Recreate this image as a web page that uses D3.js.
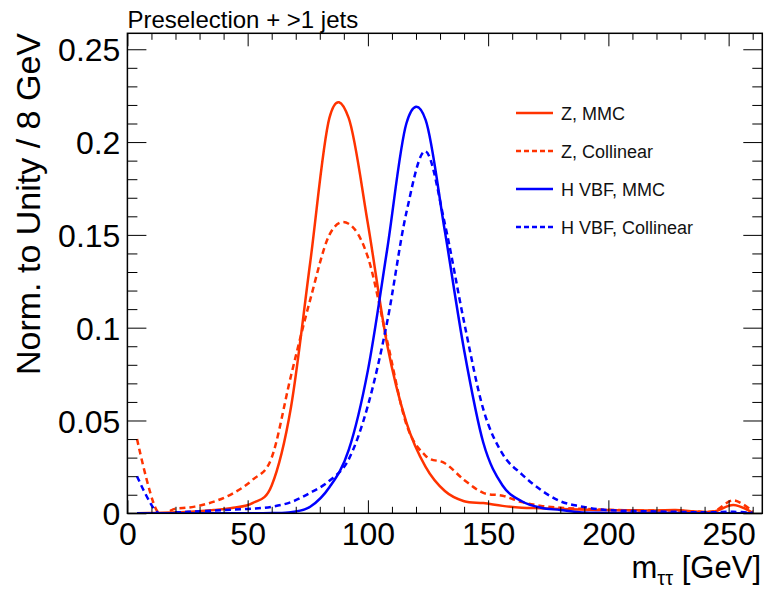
<!DOCTYPE html>
<html>
<head>
<meta charset="utf-8">
<script src="https://cdn.jsdelivr.net/npm/d3@7"></script>
<style>
  body { margin: 0; background: #fff; }
  svg { display: block; font-family: "Liberation Sans", Arial, Helvetica, sans-serif; }
</style>
</head>
<body>
<div id="chart"></div>
<script>
// ---- data ----
const binCenters = [4, 12, 20, 28, 36, 44, 52, 60, 68, 76, 84, 92, 100, 108, 116, 124, 132, 140, 148, 156, 164, 172, 180, 188, 196, 204, 212, 220, 228, 236, 244, 252, 260];
const zMMC = [0.0, 0.0002, 0.0005, 0.001, 0.0018, 0.003, 0.0055, 0.015, 0.057, 0.135, 0.213, 0.213, 0.156, 0.091, 0.049, 0.025, 0.012, 0.0065, 0.0055, 0.004, 0.003, 0.0027, 0.0023, 0.002, 0.0018, 0.0017, 0.0016, 0.0015, 0.0018, 0.001, 0.001, 0.0045, 0.0003];
const zCol = [0.040, 0.002, 0.0025, 0.0036, 0.0063, 0.0108, 0.018, 0.03, 0.074, 0.115, 0.150, 0.156, 0.138, 0.093, 0.048, 0.031, 0.027, 0.018, 0.011, 0.0095, 0.006, 0.004, 0.003, 0.0025, 0.002, 0.0018, 0.0015, 0.0015, 0.0015, 0.001, 0.0012, 0.007, 0.001];
const hMMC = [0, 0, 0, 0, 0, 0, 0, 0.0002, 0.0006, 0.0035, 0.014, 0.034, 0.077, 0.142, 0.210, 0.212, 0.152, 0.088, 0.038, 0.015, 0.0065, 0.003, 0.0018, 0.0006, 0.0003, 0.0002, 0.0001, 0.0001, 0.0001, 0, 0, 0, 0];
const hCol = [0.020, 0.001, 0.0005, 0.001, 0.0015, 0.002, 0.0025, 0.0035, 0.006, 0.011, 0.0175, 0.029, 0.058, 0.103, 0.162, 0.195, 0.156, 0.103, 0.056, 0.032, 0.021, 0.0125, 0.0065, 0.0038, 0.0022, 0.0015, 0.0012, 0.001, 0.0008, 0.0006, 0.0006, 0.0008, 0.0003];

const seriesNames = ["Z, MMC", "Z, Collinear", "H VBF, MMC", "H VBF, Collinear"];
const seriesColors = ["#ff3300", "#ff3300", "#0000ff", "#0000ff"];
const seriesDashed = [false, true, false, true];

const xMajorTicks = [0, 50, 100, 150, 200, 250];
const xMinorTicks = [10, 20, 30, 40, 60, 70, 80, 90, 110, 120, 130, 140, 160, 170, 180, 190, 210, 220, 230, 240, 260];
const yMajorTicks = [0, 0.05, 0.1, 0.15, 0.2, 0.25];
const yTickLabels = ["0", "0.05", "0.1", "0.15", "0.2", "0.25"];
const yMinorTicks = [0.01, 0.02, 0.03, 0.04, 0.06, 0.07, 0.08, 0.09, 0.11, 0.12, 0.13, 0.14, 0.16, 0.17, 0.18, 0.19, 0.21, 0.22, 0.23, 0.24];

const xDomain = [0, 264];
const yDomain = [0, 0.2586];

const titleText = "Preselection + >1 jets";
const yTitle = "Norm. to Unity / 8 GeV";

// ---- layout ----
const W = 765, H = 590;
const L = 127.4, R = 762.3, T = 33.3, B = 513.3;

const svg = d3.select("#chart").append("svg").attr("width", W).attr("height", H);

const x = d3.scaleLinear().domain(xDomain).range([L, R]);
const y = d3.scaleLinear().domain(yDomain).range([B, T]);

svg.append("defs").append("clipPath").attr("id", "plotclip")
  .append("rect").attr("x", L).attr("y", T).attr("width", R - L).attr("height", B - T);

// curves
const allSeries = [zMMC, zCol, hMMC, hCol];
const line = d3.line()
  .x((d, i) => x(binCenters[i]))
  .y(d => y(d))
  .curve(d3.curveCatmullRom.alpha(0));

const gCurves = svg.append("g").attr("clip-path", "url(#plotclip)");
allSeries.forEach((s, k) => {
  gCurves.append("path")
    .datum(s)
    .attr("d", line)
    .attr("fill", "none")
    .attr("stroke", seriesColors[k])
    .attr("stroke-width", 2.5)
    .attr("stroke-dasharray", seriesDashed[k] ? "6,4" : null);
});

// axes
function styleAxis(g) {
  g.select(".domain").remove();
  g.selectAll(".tick line").attr("stroke", "#000").attr("stroke-width", 1);
  g.selectAll("text").attr("fill", "#000");
}

// bottom major
svg.append("g").attr("transform", `translate(0,${B})`)
  .call(d3.axisBottom(x).tickValues(xMajorTicks).tickSizeInner(-13).tickSizeOuter(0).tickPadding(9).tickFormat(d3.format("d")))
  .call(styleAxis)
  .call(g => g.selectAll("text").attr("font-size", 32).attr("font-family", "Liberation Sans, Arial, sans-serif"));
svg.append("g").attr("transform", `translate(0,${B})`)
  .call(d3.axisBottom(x).tickValues(xMinorTicks).tickSizeInner(-6.5).tickSizeOuter(0).tickFormat(""))
  .call(styleAxis);
// top
svg.append("g").attr("transform", `translate(0,${T})`)
  .call(d3.axisTop(x).tickValues(xMajorTicks).tickSizeInner(-13).tickSizeOuter(0).tickFormat(""))
  .call(styleAxis);
svg.append("g").attr("transform", `translate(0,${T})`)
  .call(d3.axisTop(x).tickValues(xMinorTicks).tickSizeInner(-6.5).tickSizeOuter(0).tickFormat(""))
  .call(styleAxis);
// left
svg.append("g").attr("transform", `translate(${L},0)`)
  .call(d3.axisLeft(y).tickValues(yMajorTicks).tickSizeInner(-19).tickSizeOuter(0).tickPadding(7)
    .tickFormat((d, i) => yTickLabels[i]))
  .call(styleAxis)
  .call(g => g.selectAll("text").attr("font-size", 32).attr("dy", "0.36em").attr("font-family", "Liberation Sans, Arial, sans-serif"));
svg.append("g").attr("transform", `translate(${L},0)`)
  .call(d3.axisLeft(y).tickValues(yMinorTicks).tickSizeInner(-10).tickSizeOuter(0).tickFormat(""))
  .call(styleAxis);
// right
svg.append("g").attr("transform", `translate(${R},0)`)
  .call(d3.axisRight(y).tickValues(yMajorTicks).tickSizeInner(-19).tickSizeOuter(0).tickFormat(""))
  .call(styleAxis);
svg.append("g").attr("transform", `translate(${R},0)`)
  .call(d3.axisRight(y).tickValues(yMinorTicks).tickSizeInner(-10).tickSizeOuter(0).tickFormat(""))
  .call(styleAxis);

// frame
svg.append("rect").attr("x", L).attr("y", T).attr("width", R - L).attr("height", B - T)
  .attr("fill", "none").attr("stroke", "#000").attr("stroke-width", 1.5);

// title
svg.append("text").attr("x", L).attr("y", 28).attr("font-size", 24).attr("fill", "#000").text(titleText);

// x axis title
const xt = svg.append("text").attr("x", 761).attr("y", 578).attr("text-anchor", "end").attr("font-size", 31).attr("fill", "#000");
xt.append("tspan").text("m");
xt.append("tspan").attr("font-size", 20).attr("dy", 7).text("ττ");
xt.append("tspan").attr("dy", -7).text(" [GeV]");

// y axis title
svg.append("text")
  .attr("transform", "translate(40,33) rotate(-90)")
  .attr("text-anchor", "end")
  .attr("font-size", 34)
  .attr("fill", "#000")
  .text(yTitle);

// legend
const legendRows = [113, 151, 189, 227];
const gLeg = svg.append("g");
seriesNames.forEach((name, k) => {
  const yy = legendRows[k];
  gLeg.append("line").attr("x1", 516).attr("x2", 553).attr("y1", yy).attr("y2", yy)
    .attr("stroke", seriesColors[k]).attr("stroke-width", 2.5)
    .attr("stroke-dasharray", seriesDashed[k] ? "5,3" : null);
  gLeg.append("text").attr("x", 561).attr("y", yy + 6.5).attr("font-size", 18).attr("fill", "#111").text(name);
});
</script>
</body>
</html>
